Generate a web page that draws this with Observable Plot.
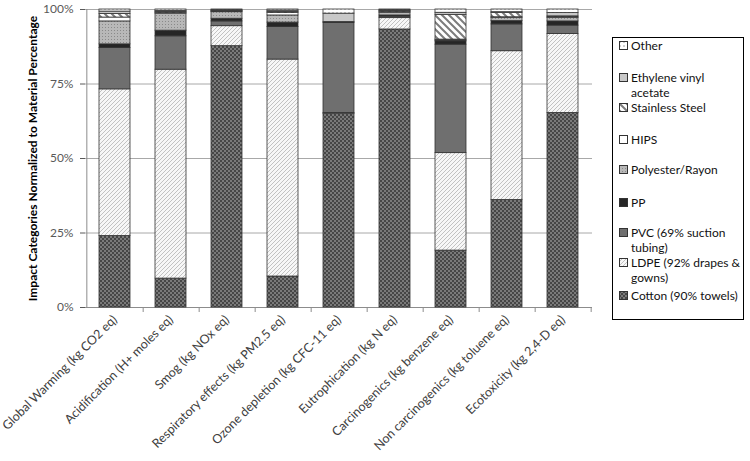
<!DOCTYPE html>
<html>
<head>
<meta charset="utf-8">
<script src="https://cdn.jsdelivr.net/npm/d3@7"></script>
<script src="https://cdn.jsdelivr.net/npm/@observablehq/plot@0.6"></script>
<style>
  body { margin: 0; background: #fff; font-family: Lato, "Open Sans", sans-serif; }
  #wrap { position: relative; width: 750px; height: 461px; }
  #legend { position: absolute; left: 612px; top: 37px; width: 132px; height: 283px;
            border: 1.5px solid #000; box-sizing: border-box; }
  .item { position: absolute; left: 18px; font-size: 12px; line-height: 15px; color: #111; white-space: nowrap; }
  .item svg { position: absolute; left: -12px; top: 3px; }
</style>
</head>
<body>
<svg width="0" height="0" style="position:absolute">
  <defs>
    <pattern id="p-cotton" patternUnits="userSpaceOnUse" width="4" height="4">
      <rect width="4" height="4" fill="#7a7a7a"/>
      <rect width="2" height="2" fill="#464646"/>
      <rect x="2" y="2" width="2" height="2" fill="#464646"/>
    </pattern>
    <pattern id="p-ldpe" patternUnits="userSpaceOnUse" width="4" height="4">
      <rect width="4" height="4" fill="#f7f7f7"/>
      <path d="M0,4 L4,0 M-1,1 L1,-1 M3,5 L5,3" stroke="#c2c2c2" stroke-width="1"/>
    </pattern>
    <pattern id="p-pvc" patternUnits="userSpaceOnUse" width="4" height="4">
      <rect width="4" height="4" fill="#6f6f6f"/>
    </pattern>
    <pattern id="p-pp" patternUnits="userSpaceOnUse" width="4" height="4">
      <rect width="4" height="4" fill="#262626"/>
    </pattern>
    <pattern id="p-poly" patternUnits="userSpaceOnUse" width="3" height="3">
      <rect width="3" height="3" fill="#b8b8b8"/>
      <rect width="1" height="1" fill="#8a8a8a"/>
    </pattern>
    <pattern id="p-hips" patternUnits="userSpaceOnUse" width="4" height="4">
      <rect width="4" height="4" fill="#ffffff"/>
    </pattern>
    <pattern id="p-ss" patternUnits="userSpaceOnUse" width="7" height="7">
      <rect width="7" height="7" fill="#ffffff"/>
      <path d="M0,0 L7,7 M-2,5 L2,9 M5,-2 L9,2" stroke="#7c7c7c" stroke-width="2"/>
    </pattern>
    <pattern id="p-eva" patternUnits="userSpaceOnUse" width="4" height="4">
      <rect width="4" height="4" fill="#c8c8c8"/>
    </pattern>
    <pattern id="p-other" patternUnits="userSpaceOnUse" width="4" height="4">
      <rect width="4" height="4" fill="#ffffff"/>
      <rect width="2" height="2" fill="#cfcfcf"/>
    </pattern>
  </defs>
</svg>
<div id="wrap"></div>
<script>
// ---- data ----
const categories = [
  "Global Warming (kg CO2 eq)",
  "Acidification (H+ moles eq)",
  "Smog (kg NOx eq)",
  "Respiratory effects (kg PM2.5 eq)",
  "Ozone depletion (kg CFC-11 eq)",
  "Eutrophication (kg N eq)",
  "Carcinogenics (kg benzene eq)",
  "Non carcinogenics (kg toluene eq)",
  "Ecotoxicity (kg 2,4-D eq)"
];
// stacking order, bottom to top
const seriesNames = [
  "Cotton (90% towels)",
  "LDPE (92% drapes & gowns)",
  "PVC (69% suction tubing)",
  "PP",
  "Polyester/Rayon",
  "HIPS",
  "Stainless Steel",
  "Ethylene vinyl acetate",
  "Other"
];
const cotton    = [24.0,  9.7, 87.7, 10.4, 65.0, 93.3, 19.1, 36.1, 65.3];
const ldpe      = [49.2, 70.1,  6.7, 72.8,  0.3,  3.8, 32.7, 49.9, 26.5];
const pvc       = [13.9, 11.2,  1.6, 10.9, 30.2,  0.5, 36.4,  9.0,  2.8];
const pp        = [ 1.2,  1.9,  0.9,  1.5,  0.3,  0.4,  1.1,  1.1,  1.4];
const polyester = [ 7.7,  5.7,  2.2,  2.4,  0.0,  0.9,  0.3,  1.1,  1.2];
const hips      = [ 1.3,  0.3,  0.2,  0.8,  0.0,  0.3,  0.3,  0.2,  0.2];
const steel     = [ 1.2,  0.3,  0.2,  0.4,  0.0,  0.3,  8.3,  1.4,  0.3];
const eva       = [ 0.8,  0.3,  0.2,  0.4,  2.8,  0.2,  0.7,  0.3,  1.1];
const other     = [ 0.7,  0.5,  0.3,  0.4,  1.4,  0.3,  1.1,  0.9,  1.2];
const yTicks = [0, 25, 50, 75, 100];
const yTitle = "Impact Categories Normalized to Material Percentage";

// ---- build table ----
const seriesValues = [cotton, ldpe, pvc, pp, polyester, hips, steel, eva, other];
const patternIds = ["p-cotton", "p-ldpe", "p-pvc", "p-pp", "p-poly", "p-hips", "p-ss", "p-eva", "p-other"];
const table = [];
categories.forEach((c, i) => {
  seriesNames.forEach((s, k) => {
    const v = seriesValues[k][i];
    if (v > 0) table.push({cat: c, series: s, value: v});
  });
});

const W = 750, H = 461, ml = 85, mr = 158, mt = 9, mb = 154;
const step = (W - ml - mr) / categories.length;

const chart = Plot.plot({
  width: W, height: H,
  marginLeft: ml, marginRight: mr, marginTop: mt, marginBottom: mb,
  style: {fontFamily: "Lato, 'Open Sans', sans-serif", background: "#fff"},
  x: {domain: categories, paddingInner: 0.45, paddingOuter: 0.225, label: null},
  y: {domain: [0, 100], label: null},
  color: {domain: seriesNames, range: patternIds.map(id => `url(#${id})`)},
  marks: [
    Plot.gridY(yTicks.slice(1), {stroke: "#a8a8a8", strokeOpacity: 1, strokeWidth: 1}),
    Plot.ruleY([0], {stroke: "#8c8c8c"}),
    Plot.ruleX([categories[0]], {dx: -step / 2, stroke: "#8c8c8c"}),
    Plot.ruleX(categories, {dx: step / 2, stroke: "#8c8c8c", insetTop: H - mt - mb, insetBottom: -5}),
    Plot.barY(table, Plot.stackY({x: "cat", y: "value", fill: "series", stroke: "#333", strokeWidth: 0.8})),
    Plot.axisY(yTicks, {tickFormat: d => d + "%", tickSize: 5, tickPadding: 7, fontSize: 12, color: "#595959", label: null}),
    Plot.axisX({tickRotate: -45, tickSize: 0, tickPadding: 10, fontSize: 12.5, fill: "#404040", textAnchor: "end", label: null}),
    Plot.text([yTitle], {frameAnchor: "left", textAnchor: "middle", rotate: -90, dx: -52, fontSize: 12, fontWeight: "bold", fill: "#000"})
  ]
});
document.getElementById("wrap").appendChild(chart);

// ---- legend (top to bottom: reverse of stacking) ----
const legendLines = {
  "Other": ["Other"],
  "Ethylene vinyl acetate": ["Ethylene vinyl", "acetate"],
  "Stainless Steel": ["Stainless Steel"],
  "HIPS": ["HIPS"],
  "Polyester/Rayon": ["Polyester/Rayon"],
  "PP": ["PP"],
  "PVC (69% suction tubing)": ["PVC (69% suction", "tubing)"],
  "LDPE (92% drapes & gowns)": ["LDPE (92% drapes &", "gowns)"],
  "Cotton (90% towels)": ["Cotton (90% towels)"]
};
const legendTops = [0, 32, 62, 94, 124, 157, 187, 217, 250];
const legend = document.createElement("div");
legend.id = "legend";
seriesNames.slice().reverse().forEach((s, j) => {
  const k = seriesNames.indexOf(s);
  const it = document.createElement("div");
  it.className = "item";
  it.style.top = legendTops[j] + "px";
  it.innerHTML = `<svg width="9" height="9"><rect x="0.5" y="0.5" width="8" height="8" fill="url(#${patternIds[k]})" stroke="#333" stroke-width="1"/></svg>` +
    legendLines[s].join("<br>");
  legend.appendChild(it);
});
document.getElementById("wrap").appendChild(legend);
</script>
</body>
</html>
